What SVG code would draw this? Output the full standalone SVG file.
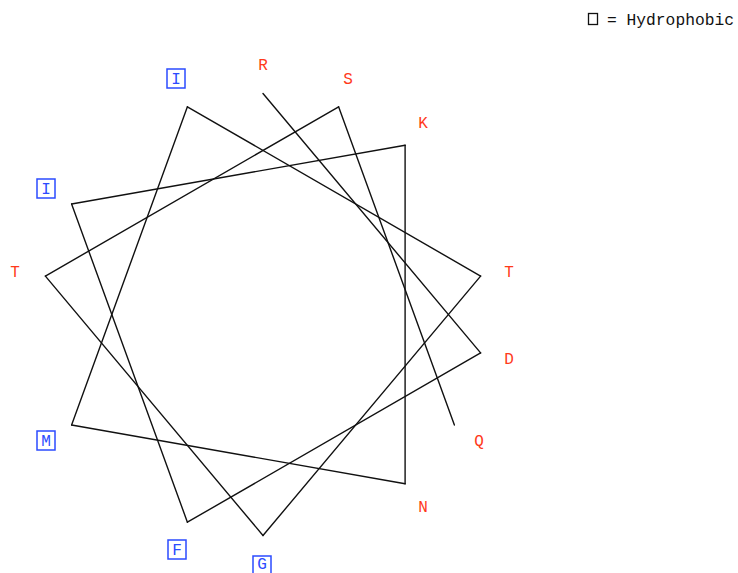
<svg xmlns="http://www.w3.org/2000/svg" width="738" height="573" viewBox="0 0 738 573">
<style>
.bg{fill:#ffffff}
.c line{stroke:#111111;stroke-width:1.4;fill:none;stroke-linecap:round}
.lbl{font-family:"Liberation Mono","DejaVu Sans Mono",monospace;font-size:16px;text-anchor:middle}
.polar{fill:#ff3a1a}
.hyd{fill:#2b4bff}
.box{fill:none;stroke:#2b4bff;stroke-width:1.5}
.leg{font-family:"Liberation Mono","DejaVu Sans Mono",monospace;font-size:16.3px;fill:#111111}
.legbox{fill:none;stroke:#111111;stroke-width:1.3}
</style>
<rect class="bg" x="0" y="0" width="738" height="573"/>
<g id="legend">
<rect class="legbox" x="588.5" y="13.5" width="9" height="11"/>
<text class="leg" x="607" y="25">= Hydrophobic</text>
</g>
<g id="connectors" class="c">
<line x1="263" y1="93.5" x2="480.6" y2="352.9"/>
<line x1="480.6" y1="352.9" x2="187.4" y2="522.2"/>
<line x1="187.4" y1="522.2" x2="71.6" y2="204"/>
<line x1="71.6" y1="204" x2="405.1" y2="145.2"/>
<line x1="405.1" y1="145.2" x2="405.1" y2="483.8"/>
<line x1="405.1" y1="483.8" x2="71.6" y2="425"/>
<line x1="71.6" y1="425" x2="187.4" y2="106.8"/>
<line x1="187.4" y1="106.8" x2="480.6" y2="276.1"/>
<line x1="480.6" y1="276.1" x2="263" y2="535.5"/>
<line x1="263" y1="535.5" x2="45.4" y2="276.1"/>
<line x1="45.4" y1="276.1" x2="338.6" y2="106.8"/>
<line x1="338.6" y1="106.8" x2="454.4" y2="425"/>
</g>
<g id="res1-R"><text class="lbl polar" x="263" y="70">R</text></g>
<g id="res2-D"><text class="lbl polar" x="509" y="364">D</text></g>
<g id="res3-F"><rect class="box" x="168" y="540" width="18" height="19"/><text class="lbl hyd" x="177" y="555">F</text></g>
<g id="res4-I"><rect class="box" x="37" y="179" width="18" height="19"/><text class="lbl hyd" x="46" y="194">I</text></g>
<g id="res5-K"><text class="lbl polar" x="423" y="128">K</text></g>
<g id="res6-N"><text class="lbl polar" x="423" y="512">N</text></g>
<g id="res7-M"><rect class="box" x="37" y="431" width="18" height="19"/><text class="lbl hyd" x="46" y="446">M</text></g>
<g id="res8-I"><rect class="box" x="167" y="69" width="18" height="19"/><text class="lbl hyd" x="176" y="84">I</text></g>
<g id="res9-T"><text class="lbl polar" x="509" y="277">T</text></g>
<g id="res10-G"><rect class="box" x="253" y="556" width="18" height="19"/><text class="lbl hyd" x="262" y="569">G</text></g>
<g id="res11-T"><text class="lbl polar" x="15" y="277">T</text></g>
<g id="res12-S"><text class="lbl polar" x="348" y="84">S</text></g>
<g id="res13-Q"><text class="lbl polar" x="479" y="446">Q</text></g>
</svg>
